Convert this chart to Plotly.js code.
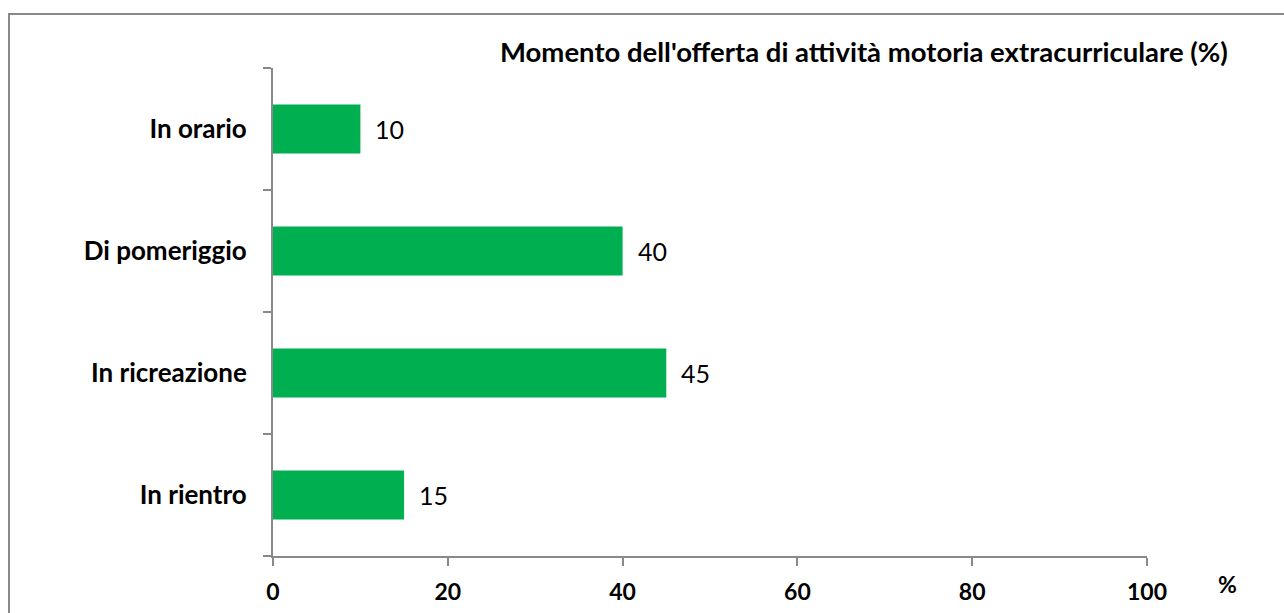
<!DOCTYPE html>
<html>
<head>
<meta charset="utf-8">
<script src="https://cdn.plot.ly/plotly-3.0.1.min.js"></script>
<style>html,body{margin:0;padding:0;background:#fff;}#chart{width:1284px;height:613px;}</style>
</head>
<body>
<div id="chart"></div>
<script>
const categories = ["In orario", "Di pomeriggio", "In ricreazione", "In rientro"];
const values = [10, 40, 45, 15];
const xTicks = [0, 20, 40, 60, 80, 100];
const chartTitle = "Momento dell'offerta di attività motoria extracurriculare (%)";
const unitLabel = "%";

const FONT = "Lato, 'Open Sans', sans-serif";
const GRAY = "#898989";

const trace = {
  type: "bar",
  orientation: "h",
  y: categories,
  x: values,
  marker: {color: "#00B050"},
  hoverinfo: "none"
};

const annotations = values.map((v, i) => ({
  x: v, y: categories[i], xref: "x", yref: "y",
  text: String(v), showarrow: false, xanchor: "left", yanchor: "middle",
  xshift: 13, font: {family: FONT, size: 25, color: "#000"}
}));
annotations.push({
  xref: "paper", yref: "paper", x: (1227 - 273) / 874, y: (556 - 584) / 488,
  text: "<b>" + unitLabel + "</b>", showarrow: false, xanchor: "center", yanchor: "middle",
  font: {family: FONT, size: 23, color: "#000"}
});
annotations.push({
  xref: "paper", yref: "paper", x: (1230 - 273) / 874, y: (556 - 52) / 488,
  text: "<b>" + chartTitle + "</b>", showarrow: false, xanchor: "right", yanchor: "middle",
  font: {family: FONT, size: 27.5, color: "#000"}
});

const layout = {
  width: 1284, height: 613,
  margin: {l: 273, r: 137, t: 68, b: 57},
  paper_bgcolor: "#fff", plot_bgcolor: "#fff",
  showlegend: false,
  bargap: 0.6,
  xaxis: {
    range: [0, 100], tickvals: xTicks, ticktext: xTicks.map(t => "<b>" + t + "</b>"),
    showgrid: false, zeroline: false, showline: true, linecolor: GRAY, linewidth: 2,
    ticks: "outside", ticklen: 8, tickwidth: 2, tickcolor: GRAY,
    tickfont: {family: FONT, size: 23, color: "#000"}, ticklabelstandoff: 6,
    fixedrange: true
  },
  yaxis: {
    type: "category", categoryorder: "array", categoryarray: categories,
    autorange: "reversed",
    ticktext: categories.map(c => "<b>" + c + "</b>"), tickvals: categories,
    showgrid: false, zeroline: false, showline: true, linecolor: GRAY, linewidth: 2,
    ticks: "outside", tickson: "boundaries", ticklen: 8, tickwidth: 2, tickcolor: GRAY,
    tickfont: {family: FONT, size: 26, color: "#000"}, ticklabelstandoff: 19,
    fixedrange: true
  },
  annotations: annotations,
  shapes: [{
    type: "rect", xref: "paper", yref: "paper",
    x0: (9 - 273) / 874, x1: (1290 - 273) / 874,
    y0: (556 - 620) / 488, y1: (556 - 14) / 488,
    line: {color: GRAY, width: 2}, fillcolor: "rgba(0,0,0,0)", layer: "below"
  }]
};

Plotly.newPlot("chart", [trace], layout, {displayModeBar: false, staticPlot: true});
</script>
</body>
</html>
